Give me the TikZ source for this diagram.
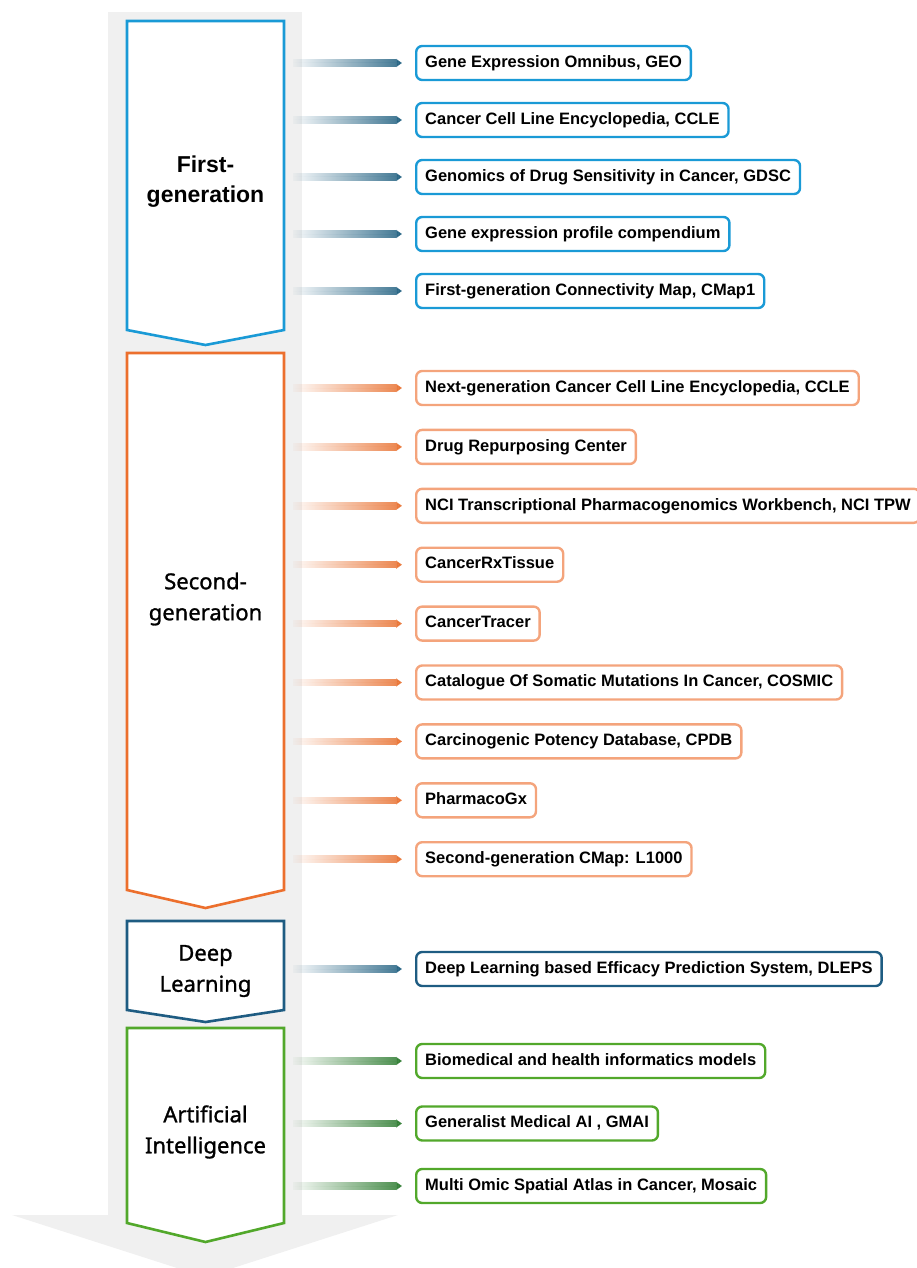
\documentclass[tikz,border=0pt]{standalone}
\usepackage{fontspec}
\setmainfont{Liberation Sans}
\newfontfamily\stagefont[FakeBold=1.2]{Noto Sans}
\usetikzlibrary{positioning,arrows.meta,fadings}

\definecolor{bandgray}{HTML}{F0F0F0}
\definecolor{genblue}{HTML}{1A9AD6}
\definecolor{linkblue}{HTML}{1F5F80}
\definecolor{genorange}{HTML}{EC6F2D}
\definecolor{boxorange}{HTML}{F4A47C}
\definecolor{linkorange}{HTML}{E8702F}
\definecolor{dlblue}{HTML}{1E5C82}
\definecolor{aigreen}{HTML}{52A82B}
\definecolor{linkgreen}{HTML}{2B7A2E}

\tikzfading[name=fade in, left color=transparent!100, right color=transparent!0]

\begin{document}
\begin{tikzpicture}[
        x=1pt, y=-1pt,
        font=\bfseries\fontsize{16.5}{20}\selectfont,
        db/.style={draw, fill=white, rounded corners=6pt, line width=2.4pt, anchor=west,
            minimum height=34pt, inner xsep=9pt, text height=12pt, text depth=3.5pt},
        stage/.style={line width=2.6pt, fill=white, line join=miter},
        stagelabel/.style={align=center, font=\stagefont\fontsize{22}{31}\selectfont},
        link/.style={line width=7.5pt, path fading=fade in, -{Triangle[length=6pt,width=8pt]}, shorten >=13pt}
    ]
        \useasboundingbox (0,0) rectangle (917,1268);
        \clip (0,0) rectangle (917,1268);

        % gray time line
        \fill[bandgray] (108,12) rectangle (302,1216);
        \fill[bandgray] (12,1215) -- (398,1215) -- (205,1277) -- cycle;

        % stages
        \draw[stage, draw=genblue] (127,21) -- (284,21) -- (284,330) -- (205.5,345) -- (127,330) -- cycle;
        \draw[stage, draw=genorange] (127,353) -- (284,353) -- (284,890) -- (205.5,908) -- (127,890) -- cycle;
        \draw[stage, draw=dlblue] (127,921) -- (284,921) -- (284,1010) -- (205.5,1022) -- (127,1010) -- cycle;
        \draw[stage, draw=aigreen] (127,1028) -- (284,1028) -- (284,1223) -- (205.5,1242) -- (127,1223) -- cycle;

        \node[stagelabel, font=\bfseries\fontsize{23}{30}\selectfont] (gen1) at (205.5,182) {First-\\generation};
        \node[stagelabel] (gen2) at (205.5,599) {Second-\\generation};
        \node[stagelabel] (dl) at (205.5,971) {Deep\\Learning};
        \node[stagelabel] (ai) at (205.5,1132) {Artificial\\Intelligence};

        % first generation
        \node[db, draw=genblue] (geo) at (415,63) {Gene Expression Omnibus, GEO};
        \node[db, draw=genblue, below=57pt of geo.west, anchor=west] (ccle) {Cancer Cell Line Encyclopedia, CCLE};
        \node[db, draw=genblue, below=57pt of ccle.west, anchor=west] (gdsc) {Genomics of Drug Sensitivity in Cancer, GDSC};
        \node[db, draw=genblue, below=57pt of gdsc.west, anchor=west] (gepc) {Gene expression profile compendium};
        \node[db, draw=genblue, below=57pt of gepc.west, anchor=west] (cmap1) {First-generation Connectivity Map, CMap1};

        % second generation
        \node[db, draw=boxorange] (ccle2) at (415,388) {Next-generation Cancer Cell Line Encyclopedia, CCLE};
        \node[db, draw=boxorange, below=58.9pt of ccle2.west, anchor=west] (drc) {Drug Repurposing Center};
        \node[db, draw=boxorange, below=58.9pt of drc.west, anchor=west] (ncitpw) {NCI Transcriptional Pharmacogenomics Workbench, NCI TPW};
        \node[db, draw=boxorange, below=58.9pt of ncitpw.west, anchor=west] (crxt) {CancerRxTissue};
        \node[db, draw=boxorange, below=58.9pt of crxt.west, anchor=west] (ctracer) {CancerTracer};
        \node[db, draw=boxorange, below=58.9pt of ctracer.west, anchor=west] (cosmic) {Catalogue Of Somatic Mutations In Cancer, COSMIC};
        \node[db, draw=boxorange, below=58.9pt of cosmic.west, anchor=west] (cpdb) {Carcinogenic Potency Database, CPDB};
        \node[db, draw=boxorange, below=58.9pt of cpdb.west, anchor=west] (pgx) {PharmacoGx};
        \node[db, draw=boxorange, below=58.9pt of pgx.west, anchor=west] (l1000) {Second-generation CMap: L1000};

        % deep learning
        \node[db, draw=dlblue] (dleps) at (415,969) {Deep Learning based Efficacy Prediction System, DLEPS};

        % artificial intelligence
        \node[db, draw=aigreen] (bhim) at (415,1061) {Biomedical and health informatics models};
        \node[db, draw=aigreen, below=62.5pt of bhim.west, anchor=west] (gmai) {Generalist Medical AI , GMAI};
        \node[db, draw=aigreen, below=62.5pt of gmai.west, anchor=west] (mosaic) {Multi Omic Spatial Atlas in Cancer, Mosaic};

        % links
        \coordinate (rail) at (293,0);
        \foreach \db in {geo,ccle,gdsc,gepc,cmap1,dleps}
            \draw[link, draw=linkblue, fill=linkblue] (rail |- \db.west) -- (\db.west);
        \foreach \db in {ccle2,drc,ncitpw,crxt,ctracer,cosmic,cpdb,pgx,l1000}
            \draw[link, draw=linkorange, fill=linkorange] (rail |- \db.west) -- (\db.west);
        \foreach \db in {bhim,gmai,mosaic}
            \draw[link, draw=linkgreen, fill=linkgreen] (rail |- \db.west) -- (\db.west);
    \end{tikzpicture}
\end{document}
